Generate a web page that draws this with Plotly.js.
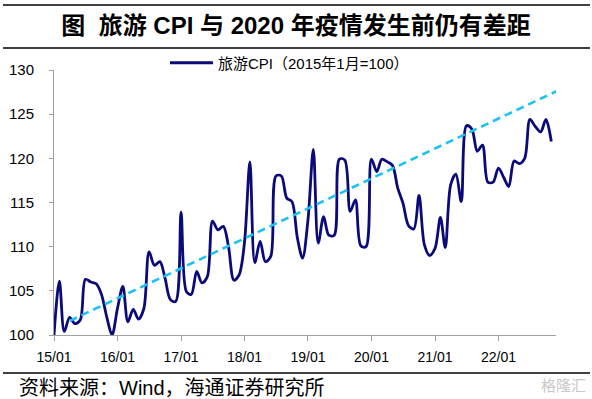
<!DOCTYPE html>
<html>
<head>
<meta charset="utf-8">
<script src="https://cdn.plot.ly/plotly-3.0.1.min.js"></script>
<style>
  html, body { margin: 0; padding: 0; background: #fff; }
  #chart { width: 592px; height: 399px; }
</style>
</head>
<body>
<div id="chart"></div>
<script>
// ---- Data ----
const startYear = 2015;
const cpiValues = [
  100.0, 106.1, 100.4, 102.0, 101.3, 101.7, 106.3, 106.0, 105.8, 104.6, 102.0, 100.0,
  103.0, 105.5, 101.5, 102.9, 101.8, 103.0, 109.4, 107.9, 108.3, 106.4, 104.0, 103.8,
  113.9, 104.9, 104.6, 107.2, 105.9, 106.6, 112.9, 111.9, 112.3, 110.0, 106.2, 106.8,
  110.5, 119.6, 108.2, 110.6, 108.3, 108.9, 118.0, 118.0, 115.5, 115.1, 111.0, 108.7,
  113.0, 121.0, 110.4, 113.4, 111.3, 111.3, 119.9, 119.8, 114.0, 115.3, 110.1, 110.0,
  119.9, 118.5, 119.9, 119.6, 119.2, 116.6, 114.9, 112.4, 112.0, 115.8, 110.2, 109.0,
  109.8, 113.3, 109.9, 117.0, 118.2, 115.1, 123.7, 123.3, 120.8, 121.5, 117.3, 117.3,
  118.9, 117.8, 116.8, 119.7, 119.4, 120.0, 124.4, 123.6, 123.0, 124.4, 121.9
];
const trendDates = ['2015-04-01', '2022-12-01'];
const trendValues = [101.6, 127.6];
const yTicks = [100, 105, 110, 115, 120, 125, 130];
const seriesName = '旅游CPI（2015年1月=100）';
const titleText = '图\u00A0\u00A0旅游 CPI 与 2020 年疫情发生前仍有差距';
const sourceText = '资料来源：Wind，海通证券研究所';

// month categories (dates) for each value
const cpiDates = cpiValues.map((_, i) => {
  const y = startYear + Math.floor(i / 12);
  const m = (i % 12) + 1;
  return y + '-' + (m < 10 ? '0' + m : m) + '-01';
});

// ---- Layout helpers ----
const W = 592, H = 399;
const L = 54, R = 36, T = 70, B = 64;
const pw = W - L - R, ph = H - T - B;
const px = x => (x - L) / pw;
const py = y => (H - B - y) / ph;

const FONT = 'Liberation Sans, Arial, Noto Sans CJK SC, sans-serif';

const traces = [
  {
    x: cpiDates, y: cpiValues, type: 'scatter', mode: 'lines',
    name: seriesName,
    line: { color: '#0A0A78', width: 2.8, shape: 'spline', smoothing: 0.9 },
    showlegend: true
  },
  {
    x: trendDates, y: trendValues, type: 'scatter', mode: 'lines',
    line: { color: '#1CC3F2', width: 2.6, dash: '8px,5px' },
    showlegend: false, hoverinfo: 'skip'
  }
];

const layout = {
  width: W, height: H,
  margin: { l: L, r: R, t: T, b: B, pad: 0 },
  paper_bgcolor: '#fff', plot_bgcolor: '#fff',
  font: { family: FONT, size: 14, color: '#000' },
  title: {
    text: '<b>' + titleText + '</b>',
    font: { family: 'Liberation Sans, Noto Sans CJK SC, sans-serif', size: 24, color: '#000' },
    x: 0.5, xref: 'container', xanchor: 'center',
    y: 1 - 26 / H, yref: 'container', yanchor: 'middle'
  },
  showlegend: true,
  legend: {
    orientation: 'h', x: px(165), xanchor: 'left', y: py(63), yanchor: 'middle',
    itemwidth: 43,
    font: { family: FONT, size: 15, color: '#000' },
    bgcolor: 'rgba(0,0,0,0)', borderwidth: 0
  },
  xaxis: {
    type: 'date',
    range: ['2015-01-01', '2022-11-28'],
    tick0: '2015-01-01', dtick: 'M12', tickformat: '%y/%m',
    showgrid: false, zeroline: false,
    showline: true, linecolor: '#A0A0A0', linewidth: 1,
    ticks: 'outside', ticklen: 5, tickcolor: '#A0A0A0', tickwidth: 1,
    ticklabelstandoff: 4,
    tickfont: { family: FONT, size: 14, color: '#000' },
    fixedrange: true
  },
  yaxis: {
    range: [100, 130],
    tickvals: yTicks, ticktext: yTicks.map(String),
    showgrid: false, zeroline: false,
    showline: true, linecolor: '#A0A0A0', linewidth: 1,
    ticks: 'outside', ticklen: 4, tickcolor: '#A0A0A0', tickwidth: 1,
    ticklabelstandoff: 12,
    tickfont: { family: FONT, size: 15, color: '#000' },
    fixedrange: true
  },
  shapes: [
    { type: 'line', xref: 'paper', yref: 'paper', x0: px(3), x1: px(590), y0: py(5), y1: py(5), line: { color: '#000', width: 1.5 } },
    { type: 'line', xref: 'paper', yref: 'paper', x0: px(3), x1: px(590), y0: py(48), y1: py(48), line: { color: '#000', width: 1.5 } },
    { type: 'line', xref: 'paper', yref: 'paper', x0: px(3), x1: px(590), y0: py(373), y1: py(373), line: { color: '#000', width: 1.5 } }
  ],
  annotations: [
    {
      text: sourceText, xref: 'paper', yref: 'paper',
      x: px(17), y: py(388), xanchor: 'left', yanchor: 'middle', showarrow: false,
      font: { family: FONT, size: 20, color: '#000' }
    },
    {
      text: '格隆汇', xref: 'paper', yref: 'paper',
      x: px(588), y: py(384), xanchor: 'right', yanchor: 'middle', showarrow: false,
      font: { family: 'Noto Sans CJK SC, sans-serif', size: 15, color: '#C8C8C8' }
    }
  ]
};

Plotly.newPlot('chart', traces, layout, { staticPlot: true, displayModeBar: false });
</script>
</body>
</html>
